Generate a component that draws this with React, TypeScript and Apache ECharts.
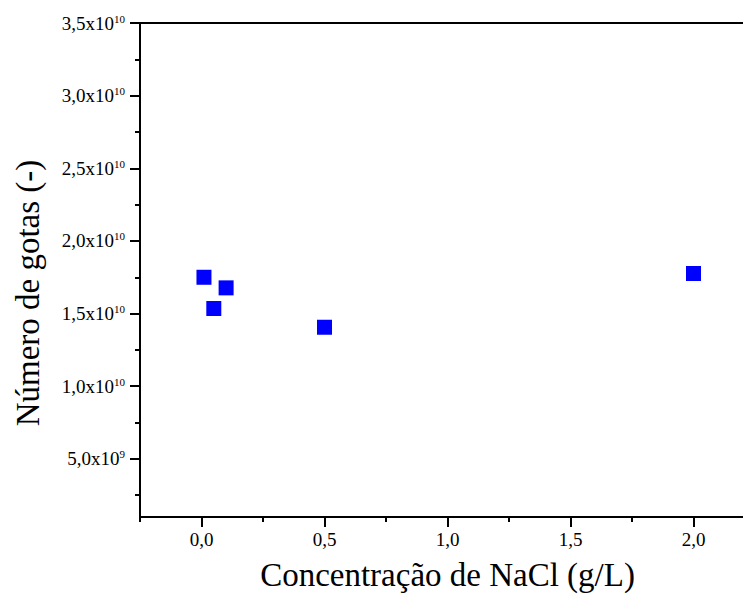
import { useEffect, useRef } from "react";
import * as echarts from "echarts";

// NaCl concentration (g/L) and the corresponding number of drops
const concentration = [0.01, 0.05, 0.1, 0.5, 2.0];
const dropCount = [1.75e10, 1.535e10, 1.677e10, 1.406e10, 1.776e10];

const xMajorTicks = [0, 0.5, 1, 1.5, 2];
const xMinorTicks = [-0.25, 0.25, 0.75, 1.25, 1.75];
const yMajorTicks = [5e9, 1e10, 1.5e10, 2e10, 2.5e10, 3e10, 3.5e10];
const yMinorTicks = [2.5e9, 7.5e9, 1.25e10, 1.75e10, 2.25e10, 2.75e10, 3.25e10];

const X_MIN = -0.25;
const X_MAX = 2.25;
const Y_MIN = 1e9;
const Y_MAX = 3.5e10;
const Y_STEP = 5e9;

const FONT = "'Liberation Serif', 'Times New Roman', serif";

// plot box
const LEFT = 140;
const TOP = 23;
const WIDTH = 615;
const HEIGHT = 494;

function sciLabel(v: number): string {
  if (v <= 0) return "";
  const e = Math.floor(Math.log10(v) + 1e-9);
  const m = v / Math.pow(10, e);
  return `{n|${m.toFixed(1).replace(".", ",")}x10}{sup|${e}}`;
}

function xLabel(v: number): string {
  const k = Math.round(v * 2);
  if (v < -1e-9 || Math.abs(v * 2 - k) > 1e-6) return "";
  return `{n|${(k / 2).toFixed(1).replace(".", ",")}}`;
}

const numStyle = { fontSize: 19, fontFamily: FONT, color: "#000", lineHeight: 20 };
const supStyle = { fontSize: 11, fontFamily: FONT, color: "#000", verticalAlign: "top" as const, lineHeight: 11 };

export default function App() {
  const ref = useRef<HTMLDivElement>(null);

  useEffect(() => {
    if (!ref.current) return;
    const chart = echarts.init(ref.current, null, { renderer: "svg" });
    const line = { show: true, lineStyle: { color: "#000", width: 2 } };
    const tickStyle = { color: "#000", width: 2 };
    const xRange = { type: "value" as const, min: X_MIN, max: X_MAX, splitLine: { show: false } };
    const yRange = { type: "value" as const, min: Y_MIN, max: Y_MAX, splitLine: { show: false } };
    // label grid runs down to zero with the same pixels-per-unit as the plot
    const labelGridHeight = (HEIGHT * Y_MAX) / (Y_MAX - Y_MIN);

    chart.setOption({
      animation: false,
      backgroundColor: "#fff",
      textStyle: { fontFamily: FONT, color: "#000" },
      grid: [
        { left: LEFT, top: TOP, width: WIDTH, height: HEIGHT, outerBoundsMode: "none" },
        { left: LEFT, top: TOP, width: WIDTH, height: labelGridHeight, outerBoundsMode: "none" },
      ],
      xAxis: [
        {
          ...xRange,
          gridIndex: 0,
          position: "bottom",
          interval: 0.25,
          axisLine: { ...line, onZero: false },
          axisTick: { show: true, length: 10, lineStyle: tickStyle, customValues: xMajorTicks },
          axisLabel: {
            show: true,
            margin: 12,
            showMinLabel: true,
            showMaxLabel: true,
            hideOverlap: false,
            ...numStyle,
            formatter: xLabel,
            rich: { n: numStyle },
          },
          name: "Concentração de NaCl (g/L)",
          nameLocation: "middle",
          nameGap: 41,
          nameTextStyle: { color: "#000", fontFamily: FONT, fontSize: 33 },
        },
        {
          ...xRange,
          gridIndex: 0,
          position: "bottom",
          axisLine: { show: false, onZero: false },
          axisTick: { show: true, length: 5, lineStyle: tickStyle, customValues: xMinorTicks },
          axisLabel: { show: false },
        },
        {
          ...xRange,
          gridIndex: 0,
          position: "top",
          axisLine: { ...line, onZero: false },
          axisTick: { show: false },
          axisLabel: { show: false },
        },
        {
          ...xRange,
          gridIndex: 1,
          show: false,
        },
      ],
      yAxis: [
        {
          ...yRange,
          gridIndex: 0,
          position: "left",
          axisLine: { ...line, onZero: false },
          axisTick: { show: true, length: 10, lineStyle: tickStyle, customValues: yMajorTicks },
          axisLabel: { show: false },
          name: "Número de gotas (-)",
          nameLocation: "middle",
          nameGap: 96,
          nameTextStyle: { color: "#000", fontFamily: FONT, fontSize: 33, padding: [0, 46, 0, 0] },
        },
        {
          ...yRange,
          gridIndex: 0,
          position: "left",
          axisLine: { show: false, onZero: false },
          axisTick: { show: true, length: 5, lineStyle: tickStyle, customValues: yMinorTicks },
          axisLabel: { show: false },
        },
        {
          type: "value",
          gridIndex: 1,
          position: "left",
          min: 0,
          max: Y_MAX,
          interval: Y_STEP,
          splitLine: { show: false },
          axisLine: { show: false, onZero: false },
          axisTick: { show: false },
          axisLabel: {
            show: true,
            margin: 15,
            showMinLabel: true,
            showMaxLabel: true,
            hideOverlap: false,
            ...numStyle,
            formatter: sciLabel,
            rich: { n: numStyle, sup: supStyle },
          },
        },
      ],
      series: [
        {
          type: "scatter",
          xAxisIndex: 0,
          yAxisIndex: 0,
          symbol: "rect",
          symbolSize: 15,
          itemStyle: { color: "#0000ff", opacity: 1 },
          data: concentration.map((c, i) => [c, dropCount[i]]),
        },
      ],
    });

    return () => chart.dispose();
  }, []);

  return (
    <div
      ref={ref}
      style={{ position: "absolute", left: 0, top: 0, width: 743, height: 601, overflow: "hidden" }}
    />
  );
}
